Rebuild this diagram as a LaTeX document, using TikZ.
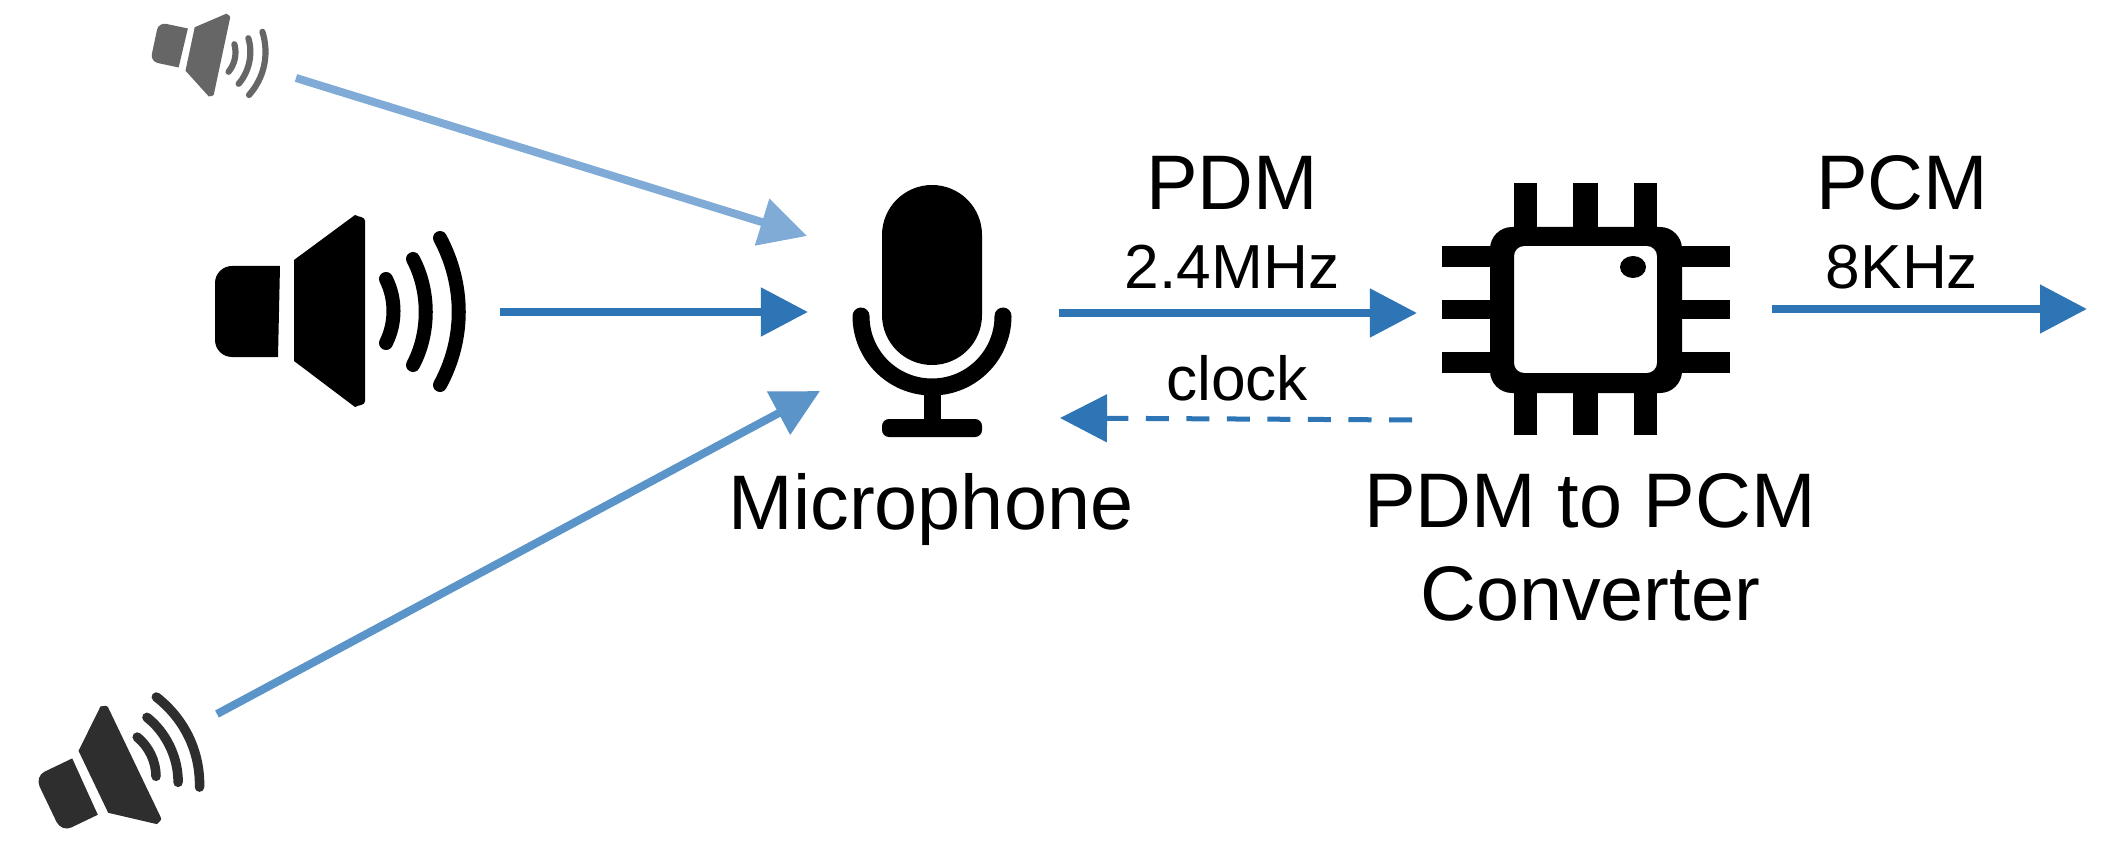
\documentclass[tikz,border=0pt]{standalone}
\usepackage{fontspec}
\setmainfont{Liberation Sans}
\usetikzlibrary{arrows.meta}
\definecolor{aLight}{HTML}{7FABD6}
\definecolor{aMid}{HTML}{2E75B6}
\definecolor{aSoft}{HTML}{5B94C9}
\tikzset{
  x=0.01cm,y=-0.01cm,
  big/.style={font=\fontsize{22}{26}\selectfont,anchor=base,inner sep=0pt},
  small/.style={font=\fontsize{17.7}{21}\selectfont,anchor=base,inner sep=0pt},
  flow/.style={line width=0.08cm,-{Triangle[length=0.47cm,width=0.47cm]}},
  clockflow/.style={line width=0.05cm,dash pattern=on 0.23cm off 0.175cm,-{Triangle[length=0.47cm,width=0.47cm]}},
  pin/.style={fill=black,draw=none},
}
% x, y, rotation, xscale, yscale, colour (stroke scale follows yscale)
\newcommand{\spk}[6]{%
\begin{scope}[shift={(#1,#2)},rotate=#3,xscale=#4,yscale=#5]
 \fill[#6] (-87,46) -- (-85,-45) -- (-133,-45) to[out=180,in=90] (-150,-28) -- (-150,29) to[out=-90,in=180] (-133,46) -- cycle;
 \fill[#6] (-71,-51) -- (-10,-96) to[out=-30,in=90] (0,-90) -- (0,90) to[out=-90,in=30] (-10,96) -- (-71,50) -- cycle;
 \draw[#6,line width=#5*0.14cm,line cap=round] (21,-32) .. controls (31,-12) and (31,12) .. (21,32);
 \draw[#6,line width=#5*0.14cm,line cap=round] (48,-52) .. controls (65,-20) and (65,22) .. (48,54);
 \draw[#6,line width=#5*0.14cm,line cap=round] (75,-73) .. controls (100,-26) and (100,28) .. (75,74);
\end{scope}}
\begin{document}
\begin{tikzpicture}
\useasboundingbox (0,0) rectangle (2101,846);
% speakers
\spk{222}{56}{-12}{0.46}{0.44}{black!60}
\spk{365}{311}{0}{1}{1}{black}
\spk{134.5}{762.5}{25.6}{0.64}{0.68}{black!82}
% microphone
\fill (882,235) arc[start angle=180,end angle=360,radius=50] -- (982,315) arc[start angle=0,end angle=180,radius=50] -- cycle;
\draw[line width=0.17cm,line cap=round] (861,316) arc[start angle=180,end angle=0,radius=71];
\fill (924,385) rectangle (941,425);
\fill[rounded corners=0.07cm] (882,419) rectangle (982,437);
% chip
\fill[pin] (1514,183) rectangle (1537,235);
\fill[pin] (1573,183) rectangle (1598,235);
\fill[pin] (1634,183) rectangle (1657,235);
\fill[pin] (1514,385) rectangle (1537,435);
\fill[pin] (1573,385) rectangle (1598,435);
\fill[pin] (1634,385) rectangle (1657,435);
\fill[pin] (1442,246) rectangle (1500,267);
\fill[pin] (1442,300) rectangle (1500,319);
\fill[pin] (1442,352) rectangle (1500,373);
\fill[pin] (1670,246) rectangle (1730,267);
\fill[pin] (1670,300) rectangle (1730,319);
\fill[pin] (1670,352) rectangle (1730,373);
\fill[even odd rule,rounded corners=0.22cm] (1490,227) rectangle (1682,393)
  [rounded corners=0.1cm] (1514,246) rectangle (1657,373);
\fill (1633,267) ellipse[x radius=13,y radius=11];
% connector ends
\coordinate (s1) at (296,78);
\coordinate (m1) at (807,236);
\coordinate (s2) at (500,312);
\coordinate (m2) at (808,312);
\coordinate (s3) at (217,714);
\coordinate (m3) at (820,391);
\coordinate (mo) at (1059,313);
\coordinate (ci) at (1417,313);
\coordinate (co) at (1412,420);
\coordinate (mi) at (1060,418);
\coordinate (po) at (1772,309);
\coordinate (pe) at (2087,309);
\draw[flow,aLight] (s1) -- (m1);
\draw[flow,aMid] (s2) -- (m2);
\draw[flow,aSoft] (s3) -- (m3);
\draw[flow,aMid] (mo) -- (ci);
\draw[flow,aMid] (po) -- (pe);
\draw[clockflow,aMid] (co) -- (mi);
% text
\node[big] (tpdm) at (1232,210) {PDM};
\node[small] (trate) at (1232,288) {2.4MHz};
\node[big] (tpcm) at (1902,210) {PCM};
\node[small] (tout) at (1902,288) {8KHz};
\node[small] (tclk) at (1237,400) {clock};
\node[big] (tmic) at (931,529) {Microphone};
\node[big] (tconv) at (1590,527) {PDM to PCM};
\node[big] (tconv2) at (1590,620) {Converter};
\end{tikzpicture}
\end{document}
